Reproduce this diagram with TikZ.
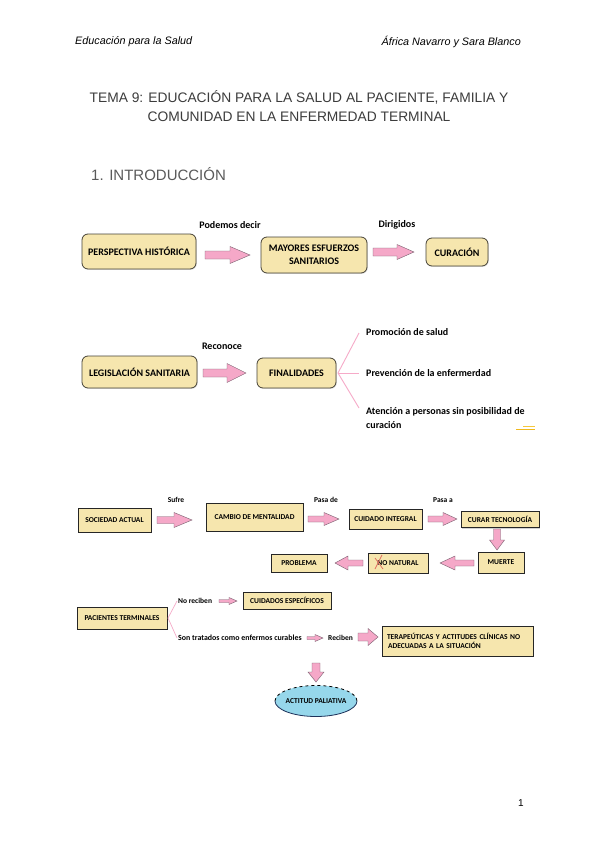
\documentclass[tikz,border=0pt]{standalone}
\usepackage{fontspec}
\setmainfont{Liberation Sans}
\newfontfamily\carl{Carlito}
\usetikzlibrary{shapes.geometric,shadows}
\definecolor{boxfill}{RGB}{246,230,174}
\definecolor{boxborder}{RGB}{70,66,55}
\definecolor{arrowpink}{RGB}{245,168,200}
\definecolor{arrowborder}{RGB}{120,95,110}
\definecolor{bracepink}{RGB}{246,170,200}
\definecolor{palblue}{RGB}{150,215,235}
\definecolor{palnavy}{RGB}{30,50,90}
\definecolor{titlegray}{RGB}{60,60,60}
\definecolor{introgray}{RGB}{90,90,90}
\newcommand{\barrow}[7]{%
  \draw[parrow, shift={(#1,#2)}, rotate=#3]
    (-#4/2,-#5/2) -- (#4/2-#7,-#5/2) -- (#4/2-#7,-#6/2) -- (#4/2,0)
    -- (#4/2-#7,#6/2) -- (#4/2-#7,#5/2) -- (-#4/2,#5/2) -- cycle;}
\tikzset{
  hdr/.style={inner sep=0pt, font=\itshape\fontsize{10.8}{12}\selectfont},
  rbox/.style={draw=boxborder, fill=boxfill, rounded corners=6pt, line width=0.8pt,
    font=\carl\bfseries\fontsize{10}{13}\selectfont, align=center, inner sep=0pt,
    drop shadow={opacity=0.25, shadow xshift=0.8pt, shadow yshift=-0.8pt}},
  sbox/.style={draw=black!85, fill=boxfill, line width=0.8pt,
    font=\carl\bfseries\fontsize{7.5}{10}\selectfont, inner sep=0pt,
    drop shadow={opacity=0.35, shadow xshift=1pt, shadow yshift=-1pt}},
  lbl/.style={inner sep=0pt, font=\carl\bfseries\fontsize{10}{12}\selectfont},
  slbl/.style={inner sep=0pt, font=\carl\bfseries\fontsize{7.5}{9}\selectfont},
  parrow/.style={draw=arrowborder, fill=arrowpink, line width=0.4pt, line join=miter},
  brace/.style={draw=bracepink, line width=0.9pt},
}
\begin{document}
\begin{tikzpicture}[x=1pt,y=-1pt]
\useasboundingbox (0,0) rectangle (600,848);
\fill[white] (0,0) rectangle (600,848);

% header
\node[hdr, anchor=west] (h1) at (75,42) {Educación para la Salud};
\node[hdr, anchor=east] (h2) at (521,42) {África Navarro y Sara Blanco};

% title
\node[inner sep=0pt, align=center, text=titlegray, font=\fontsize{13.8}{19}\selectfont] (title) at (299,106.5)
  {TEMA 9: EDUCACIÓN PARA LA SALUD AL PACIENTE, FAMILIA Y\\COMUNIDAD EN LA ENFERMEDAD TERMINAL};
\node[inner sep=0pt, anchor=west, text=introgray, font=\fontsize{15}{16}\selectfont] (intro) at (91,174) {1. INTRODUCCIÓN};

% ---- section 1
\node[rbox, minimum width=114, minimum height=35] (persp) at (139,251.5) {PERSPECTIVA HISTÓRICA};
\node[rbox, minimum width=106, minimum height=36] (mayores) at (314,255) {MAYORES ESFUERZOS\\SANITARIOS};
\node[rbox, minimum width=62, minimum height=28] (curacion) at (457,252) {CURACIÓN};
\barrow{227.5}{255}{0}{45}{8}{17}{20}
\barrow{393.5}{252}{0}{41}{8}{15}{17}
\node[lbl] (podemos) at (230,225) {Podemos decir};
\node[lbl] (dirigidos) at (397,225) {Dirigidos};

% ---- section 2
\node[rbox, minimum width=115, minimum height=32] (legis) at (139.5,372) {LEGISLACIÓN SANITARIA};
\node[rbox, minimum width=79, minimum height=30] (final) at (296.5,373) {FINALIDADES};
\barrow{224.5}{373}{0}{43}{8}{19}{19}
\node[lbl] (reconoce) at (222,346) {Reconoce};
\node[lbl, anchor=west] (promo) at (366,332) {Promoción de salud};
\node[lbl, anchor=west] (prev) at (366,373) {Prevención de la enfermerdad};
\node[lbl, anchor=north west, align=left, font=\carl\bfseries\fontsize{10}{14}\selectfont] (aten) at (366,407)
  {Atención a personas sin posibilidad de\\curación};
\coordinate (fb) at (338,373);
\coordinate (fbt) at (359,333);
\coordinate (fbm) at (359,373);
\coordinate (fbb) at (359,408);
\draw[brace] (fbt) -- (fb) -- (fbb);
\draw[brace] (fb) -- (fbm);
\draw[draw={rgb,255:red,240;green,185;blue,30}, line width=1.4pt] (516,429.5) -- (535,429.5);
\draw[draw={rgb,255:red,245;green,200;blue,60}, line width=0.8pt] (523,426.5) -- (535,426.5);

% ---- section 3
\node[sbox, minimum width=73, minimum height=24] (soc) at (114.5,520) {SOCIEDAD ACTUAL};
\node[sbox, minimum width=97, minimum height=28] (cambio) at (254.5,517) {CAMBIO DE MENTALIDAD};
\node[sbox, minimum width=73, minimum height=20] (cuidado) at (385.5,519) {CUIDADO INTEGRAL};
\node[sbox, minimum width=78, minimum height=16] (curar) at (500,519.5) {CURAR TECNOLOGÍA};
\node[sbox, minimum width=46, minimum height=21] (muerte) at (501,562.5) {MUERTE};
\node[sbox, minimum width=60, minimum height=20] (nonat) at (398,563) {NO NATURAL};
\node[sbox, minimum width=56, minimum height=18] (problema) at (299,563) {PROBLEMA};
\barrow{174.5}{520}{0}{35}{7}{15}{18}
\barrow{323.5}{519}{0}{31}{6}{13}{15}
\barrow{442.5}{519}{0}{29}{6}{13}{14}
\barrow{497}{539.5}{-90}{21}{7}{15}{10}
\barrow{457}{563}{180}{34}{6}{14}{15}
\barrow{349}{563}{180}{28}{6}{14}{13}
\node[slbl] (sufre) at (176,500) {Sufre};
\node[slbl] (pasade) at (326,500) {Pasa de};
\node[slbl] (pasaa) at (443,500) {Pasa a};
\draw[draw={rgb,255:red,225;green,110;blue,95}, line width=0.7pt] (375,558) -- (383,569);
\draw[draw={rgb,255:red,225;green,110;blue,95}, line width=0.7pt] (382,555) -- (375,569);

% ---- section 4
\node[sbox, minimum width=90, minimum height=22] (pac) at (122,618) {PACIENTES TERMINALES};
\coordinate (pb) at (168,618);
\coordinate (pbt) at (177,601);
\coordinate (pbb) at (177,638);
\draw[brace, line width=0.7pt] (pbt) -- (pb) -- (pbb);
\node[slbl, anchor=west] (noreciben) at (178,601) {No reciben};
\barrow{228}{601}{0}{18}{3}{7}{8}
\node[sbox, minimum width=88, minimum height=17] (cuidesp) at (287,600.5) {CUIDADOS ESPECÍFICOS};
\node[slbl, anchor=west, font=\carl\bfseries\fontsize{7.9}{9}\selectfont] (tratados) at (178,638) {Son tratados como enfermos curables};
\barrow{315}{638}{0}{16}{3}{7}{8}
\node[slbl, anchor=west] (reciben) at (328,638) {Reciben};
\barrow{368}{637}{0}{20}{8}{17}{10}
\node[sbox, minimum width=151, minimum height=30, text width=141, align=left, font=\carl\bfseries\fontsize{7.5}{9.5}\selectfont] (terap) at (457.5,641)
  {TERAPEÚTICAS Y ACTITUDES CLÍNICAS NO\\\hspace*{1pt}ADECUADAS A LA SITUACIÓN};
\barrow{316}{672.5}{-90}{19}{8}{16}{10}
\coordinate (palc) at (316,701);
\fill[palblue] (palc) ellipse [x radius=41, y radius=15.5];
\draw[palnavy, line width=0.8pt] ([xshift=-41pt]palc) arc[start angle=180, end angle=0, x radius=41, y radius=15.5];
\draw[black, line width=0.8pt, dashed] ([xshift=-41pt]palc) arc[start angle=180, end angle=360, x radius=41, y radius=15.5];
\node[inner sep=0pt, font=\carl\bfseries\fontsize{7.5}{9}\selectfont] (pal) at (palc) {ACTITUD PALIATIVA};

% page number
\node[inner sep=0pt, font=\fontsize{10}{12}\selectfont] (pg) at (521,803) {1};
\end{tikzpicture}
\end{document}
